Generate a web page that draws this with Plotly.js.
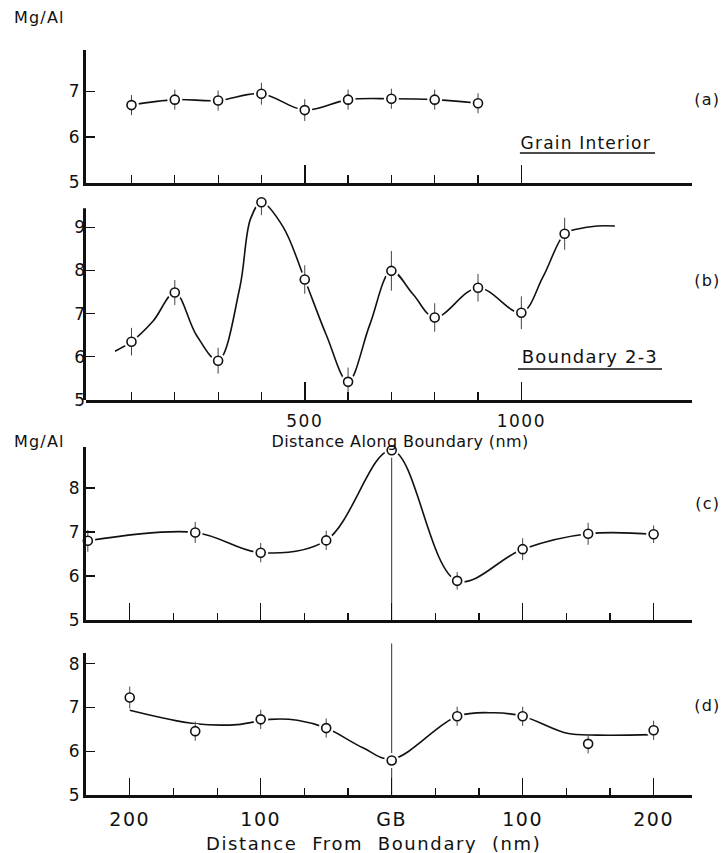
<!DOCTYPE html>
<html>
<head>
<meta charset="utf-8">
<script src="https://cdn.plot.ly/plotly-3.0.1.min.js"></script>
<style>
  html, body { margin: 0; padding: 0; background: #fff; }
  #chart { width: 721px; height: 853px; }
  #chart .x2tick text, #chart .x4tick text { letter-spacing: 1.5px; }
  #chart g.annotation text { letter-spacing: 1.2px; }
  #chart g.annotation[data-index="0"] text { letter-spacing: 0.4px; }
  #chart g.annotation[data-index="1"] text { letter-spacing: 1.6px; }
</style>
</head>
<body>
<div id="chart"></div>
<script>
// ---------- Panel (a): Grain Interior ----------
const aX = [100, 200, 300, 400, 500, 600, 700, 800, 900];
const aY = [6.70, 6.82, 6.80, 6.95, 6.59, 6.82, 6.84, 6.82, 6.74];
const aErr = [0.22, 0.22, 0.22, 0.24, 0.24, 0.22, 0.22, 0.22, 0.22];

// ---------- Panel (b): Boundary 2-3 ----------
const bX = [100, 200, 300, 400, 500, 600, 700, 800, 900, 1000, 1100];
const bY = [6.35, 7.49, 5.91, 9.58, 7.79, 5.42, 7.99, 6.91, 7.60, 7.02, 8.85];
const bErr = [0.32, 0.29, 0.30, 0.30, 0.33, 0.33, 0.46, 0.33, 0.32, 0.38, 0.37];
// hand-drawn guide curve (includes the two tails)
const bCurveX = [62, 100, 150, 200, 250, 300, 350, 375, 400, 450, 500, 550, 600, 650, 700, 750, 800, 900, 1000, 1050, 1100, 1130, 1175, 1216];
const bCurveY = [6.13, 6.35, 6.83, 7.49, 6.50, 5.91, 7.60, 9.20, 9.58, 9.01, 7.79, 6.50, 5.42, 6.74, 7.99, 7.45, 6.91, 7.60, 7.02, 7.85, 8.85, 8.96, 9.03, 9.03];

// ---------- Panel (c): distance from boundary ----------
const cX = [-232, -150, -100, -50, 0, 50, 100, 150, 200];
const cY = [6.80, 6.99, 6.53, 6.81, 8.86, 5.89, 6.61, 6.96, 6.95];
const cErr = [0.25, 0.24, 0.22, 0.22, 0, 0.20, 0.25, 0.25, 0.20];

// ---------- Panel (d): distance from boundary ----------
const dX = [-200, -150, -100, -50, 0, 50, 100, 150, 200];
const dY = [7.23, 6.46, 6.73, 6.53, 5.79, 6.80, 6.80, 6.17, 6.48];
const dErr = [0.25, 0.22, 0.22, 0.22, 0, 0.22, 0.22, 0.22, 0.22];
// smooth fit curve
const dFitX = [-200, -150, -118, -93, -72, -50, -22, 0, 50, 78, 100, 134, 157, 200];
const dFitY = [6.94, 6.63, 6.61, 6.73, 6.71, 6.53, 6.08, 5.82, 6.80, 6.88, 6.80, 6.41, 6.37, 6.38];

// ---------- Tick labels ----------
const alongMajor = [500, 1000];
const alongMajorText = ['500', '1000'];
const alongMinor = [100, 200, 300, 400, 600, 700, 800, 900];
const fromMajor = [-200, -100, 0, 100, 200];
const fromMajorText = ['200', '100', 'GB', '100', '200'];
const fromMinor = [-166.7, -133.3, -66.7, -33.3, 33.3, 66.7, 133.3, 166.7];

const FONT = 'DejaVu Sans, Liberation Sans, Arial, sans-serif';
const INK = '#111';

function panelTraces(xa, ya, px, py, err, cx, cy) {
  return [
    { x: cx, y: cy, xaxis: xa, yaxis: ya, type: 'scatter', mode: 'lines',
      line: { color: INK, width: 1.6, shape: 'spline', smoothing: 1 },
      hoverinfo: 'skip', showlegend: false, cliponaxis: false },
    { x: px, y: py, xaxis: xa, yaxis: ya, type: 'scatter', mode: 'markers',
      marker: { size: 15, color: '#fff', line: { width: 0 } },
      hoverinfo: 'skip', showlegend: false, cliponaxis: false },
    { x: px, y: py, xaxis: xa, yaxis: ya, type: 'scatter', mode: 'markers',
      marker: { symbol: 'circle', size: 9, color: '#fff', line: { color: INK, width: 1.6 } },
      error_y: { type: 'data', array: err, visible: true, width: 0, thickness: 1, color: '#444' },
      showlegend: false, cliponaxis: false }
  ];
}

const data = [].concat(
  panelTraces('x', 'y', aX, aY, aErr, aX, aY),
  panelTraces('x2', 'y2', bX, bY, bErr, bCurveX, bCurveY),
  panelTraces('x3', 'y3', cX, cY, cErr, cX, cY),
  panelTraces('x4', 'y4', dX, dY, dErr, dFitX, dFitY)
);

function xAlong(anchor, labels) {
  return {
    anchor: anchor, domain: [0, 1], range: [-5, 1394],
    showline: true, linewidth: 3, linecolor: INK,
    showgrid: false, zeroline: false,
    ticks: 'inside', tickmode: 'array', tickvals: alongMajor, ticktext: alongMajorText,
    ticklen: 18, tickwidth: 1.5, tickcolor: INK,
    showticklabels: labels, ticklabelstandoff: 4,
    tickfont: { family: FONT, size: 17, color: INK },
    minor: { tickmode: 'array', tickvals: alongMinor, ticks: 'inside', ticklen: 8, tickwidth: 1.2, tickcolor: INK }
  };
}
function xFrom(anchor, labels) {
  return {
    anchor: anchor, domain: [0, 1], range: [-233.4, 229.3],
    showline: true, linewidth: 3, linecolor: INK,
    showgrid: false, zeroline: false,
    ticks: 'inside', tickmode: 'array', tickvals: fromMajor, ticktext: fromMajorText,
    ticklen: 17, tickwidth: 1.5, tickcolor: INK,
    showticklabels: labels, ticklabelstandoff: 5,
    tickfont: { family: FONT, size: 19, color: INK },
    minor: { tickmode: 'array', tickvals: fromMinor, ticks: 'inside', ticklen: 7, tickwidth: 1.2, tickcolor: INK }
  };
}
function yAx(anchor, domain, range, vals, line) {
  return {
    anchor: anchor, domain: domain, range: range,
    showline: line, linewidth: 3, linecolor: INK,
    showgrid: false, zeroline: false,
    ticks: 'inside', tickmode: 'array', tickvals: vals, ticklen: 9, tickwidth: 1.3, tickcolor: INK,
    tickfont: { family: FONT, size: 17, color: INK }
  };
}

const layout = {
  width: 721, height: 853,
  margin: { l: 86, r: 29, t: 0, b: 0 },
  paper_bgcolor: '#fff', plot_bgcolor: '#fff',
  font: { family: FONT, color: INK },
  showlegend: false,
  xaxis: xAlong('y', false),
  yaxis: yAx('x', [0.786, 0.9414], [5, 7.91], [5, 6, 7], true),
  xaxis2: xAlong('y2', true),
  yaxis2: yAx('x2', [0.5311, 0.7690], [5, 9.70], [5, 6, 7, 8, 9], false),
  xaxis3: xFrom('y3', false),
  yaxis3: yAx('x3', [0.2732, 0.4763], [5, 8.94], [5, 6, 7, 8], true),
  xaxis4: xFrom('y4', true),
  yaxis4: yAx('x4', [0.068, 0.2341], [5, 8.24], [5, 6, 7, 8], true),
  shapes: [
    // y-axis line of panel (b) (axis range is extended so the top point is drawn)
    { type: 'line', xref: 'paper', yref: 'y2', x0: -0.0025, x1: -0.0025, y0: 4.97, y1: 9.44, layer: 'above', line: { color: INK, width: 3 } },
    { type: 'line', xref: 'x3', x0: 0, x1: 0, yref: 'y3 domain', y0: 0, y1: 1, layer: 'below', line: { color: '#333', width: 1 } },
    { type: 'line', xref: 'x4', x0: 0, x1: 0, yref: 'y4 domain', y0: 0, y1: 1.07, layer: 'below', line: { color: '#333', width: 1 } },
    { type: 'line', xref: 'paper', yref: 'paper', x0: 0.716, x1: 0.939, y0: 0.8206, y1: 0.8206, line: { color: INK, width: 1.5 } },
    { type: 'line', xref: 'paper', yref: 'paper', x0: 0.7129, x1: 0.9505, y0: 0.5674, y1: 0.5674, line: { color: INK, width: 1.5 } }
  ],
  annotations: [
    { text: 'Distance Along Boundary (nm)', xref: 'paper', yref: 'paper', x: 0.518, y: 0.4826, xanchor: 'center', yanchor: 'middle', showarrow: false, font: { family: FONT, size: 16, color: INK } },
    { text: 'Distance\u00A0\u00A0From\u00A0\u00A0Boundary\u00A0\u00A0(nm)', xref: 'paper', yref: 'paper', x: 0.4736, y: 0.0117, xanchor: 'center', yanchor: 'middle', showarrow: false, font: { family: FONT, size: 18, color: INK } },
    { text: 'Mg/Al', xref: 'paper', yref: 'paper', x: -0.1172, y: 0.980, xanchor: 'left', yanchor: 'middle', showarrow: false, font: { family: FONT, size: 16, color: INK } },
    { text: 'Mg/Al', xref: 'paper', yref: 'paper', x: -0.1172, y: 0.4820, xanchor: 'left', yanchor: 'middle', showarrow: false, font: { family: FONT, size: 16, color: INK } },
    { text: '(a)', xref: 'paper', yref: 'paper', x: 1.0248, y: 0.8828, xanchor: 'center', yanchor: 'middle', showarrow: false, font: { family: FONT, size: 16, color: INK } },
    { text: '(b)', xref: 'paper', yref: 'paper', x: 1.0248, y: 0.6717, xanchor: 'center', yanchor: 'middle', showarrow: false, font: { family: FONT, size: 16, color: INK } },
    { text: '(c)', xref: 'paper', yref: 'paper', x: 1.0248, y: 0.4103, xanchor: 'center', yanchor: 'middle', showarrow: false, font: { family: FONT, size: 16, color: INK } },
    { text: '(d)', xref: 'paper', yref: 'paper', x: 1.0248, y: 0.1735, xanchor: 'center', yanchor: 'middle', showarrow: false, font: { family: FONT, size: 16, color: INK } },
    { text: 'Grain Interior', xref: 'paper', yref: 'paper', x: 0.825, y: 0.8324, xanchor: 'center', yanchor: 'middle', showarrow: false, font: { family: FONT, size: 17, color: INK } },
    { text: 'Boundary 2-3', xref: 'paper', yref: 'paper', x: 0.8317, y: 0.5826, xanchor: 'center', yanchor: 'middle', showarrow: false, font: { family: FONT, size: 18, color: INK } }
  ]
};

Plotly.newPlot('chart', data, layout, { displayModeBar: false, staticPlot: true });
</script>
</body>
</html>
